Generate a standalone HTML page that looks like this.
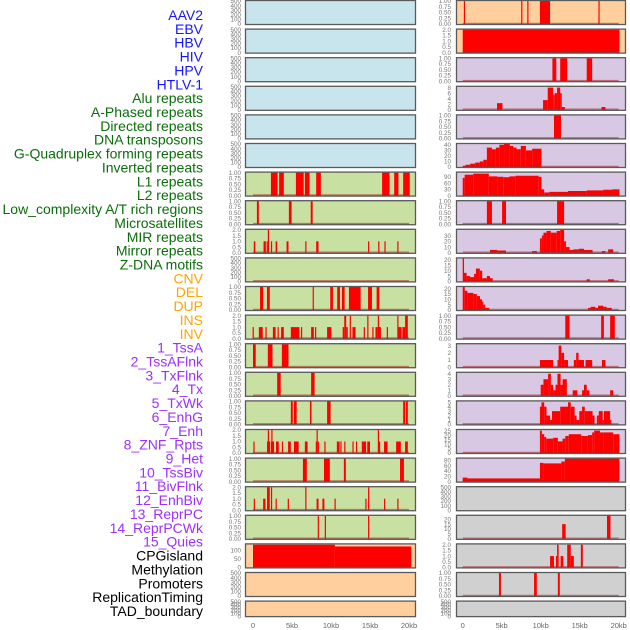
<!DOCTYPE html>
<html><head><meta charset="utf-8">
<style>
html,body{margin:0;padding:0;background:#fff;}
svg{display:block;font-family:"Liberation Sans",sans-serif;}
</style></head>
<body>
<svg id="chart" width="630" height="630" viewBox="0 0 630 630" xmlns="http://www.w3.org/2000/svg"></svg>
<script>
// ---- data ----
const trackLabels = ["AAV2","EBV","HBV","HIV","HPV","HTLV-1","Alu repeats","A-Phased repeats","Directed repeats","DNA transposons","G-Quadruplex forming repeats","Inverted repeats","L1 repeats","L2 repeats","Low_complexity A/T rich regions","Microsatellites","MIR repeats","Mirror repeats","Z-DNA motifs","CNV","DEL","DUP","INS","INV","1_TssA","2_TssAFlnk","3_TxFlnk","4_Tx","5_TxWk","6_EnhG","7_Enh","8_ZNF_Rpts","9_Het","10_TssBiv","11_BivFlnk","12_EnhBiv","13_ReprPC","14_ReprPCWk","15_Quies","CPGisland","Methylation","Promoters","ReplicationTiming","TAD_boundary"];
const labelGroups = [0,0,0,0,0,0,1,1,1,1,1,1,1,1,1,1,1,1,1,2,2,2,2,2,3,3,3,3,3,3,3,3,3,3,3,3,3,3,3,4,4,4,4,4];
const xTicks = [0,5,10,15,20];
const xTickLabels = ["0","5kb","10kb","15kb","20kb"];

// left column panels: background group, axis max, ticks, segments [startKb,endKb,value]
const leftBg = [0,0,0,0,0,0,1,1,1,1,1,1,1,1,1,1,1,1,1,2,2,2];
const leftMax = [500,500,500,500,500,500,1,1,2,500,1,2,1,1,1,2,1,2,1,135,500,500];
const leftTicks = ["h","h","h","h","h","h","q","q","t","h","q","t","q","q","q","t","q","t","q","c","h","h"];
const L6 = [[2.3,3.15,1],[3.35,3.95,1],[5.5,6.5,1],[6.65,7.25,1],[8.1,8.7,1],[16.55,17.5,1],[18.1,18.65,1],[19.25,20.1,1]];
const L7 = [[0.5,0.75,1],[4.6,4.95,1],[7.4,7.65,1]];
const L8 = [[0.1,0.3,1],[1.35,1.65,1],[1.75,1.9,1],[1.9,2.05,2],[2.3,2.45,1],[2.9,3.1,1],[4.3,4.55,1],[6.7,6.85,1],[8.1,8.4,1],[14.75,14.9,1],[16.05,16.2,1],[16.85,17.0,1],[18.5,18.65,1]];
const L10 = [[0.9,1.3,1],[1.8,2.15,1],[7.65,7.8,1],[9.9,10.25,1],[10.8,11.15,1],[11.4,11.75,1],[12.3,13.8,1],[14.75,15.25,1],[15.85,16.2,1]];
const L11 = [[-0.05,0.1,1],[0.75,1.25,1],[1.6,1.75,1],[2.55,2.9,1],[3.15,3.3,1],[3.6,3.95,1],[4.85,5.95,1],[6.15,6.3,1],[7.45,7.8,1],[7.95,8.1,1],[9.5,10.05,1],[11.5,11.7,1],[11.7,11.95,2],[11.95,12.15,1],[12.4,12.55,2],[12.75,13.15,1],[14.2,14.35,1],[14.65,14.8,2],[15.3,15.45,1],[15.7,16.0,1],[16.0,16.15,2],[16.15,16.4,1],[17.15,17.3,1],[18.5,18.65,2],[18.65,19.05,1],[19.15,19.5,1],[19.5,19.85,2]];
const L12 = [[0,0.35,1],[1.9,2.5,1],[3.7,4.55,1]];
const L13 = [[3.1,3.55,1],[7.45,7.9,1]];
const L14 = [[4.85,5.1,1],[5.25,5.6,1],[7.3,7.5,1],[9.5,9.95,1],[19.25,19.5,1],[19.6,19.85,1]];
const L15 = [[0.05,0.2,1],[1.8,1.9,1],[1.9,2.05,2],[2.05,2.15,1],[2.3,2.35,1],[2.35,2.45,2],[2.45,2.7,1],[2.95,3.3,1],[3.7,3.85,1],[4.5,4.85,1],[5.25,5.85,1],[6.65,7.0,1],[8.05,8.15,1],[8.15,8.3,2],[8.3,8.4,1],[9.15,9.3,1],[10.75,11.1,1],[11.2,11.35,1],[11.7,11.85,1],[12.75,12.9,1],[13.2,13.35,1],[13.95,14.5,1],[14.65,15.0,1],[16.0,16.15,2],[16.15,16.25,1],[16.8,17.25,1],[18.35,18.95,1],[19.5,19.85,1]];
const L16 = [[6.4,6.9,1],[9.1,9.85,1],[11.65,11.9,1],[18.85,19.35,1]];
const L17 = [[0.1,0.25,1],[1.3,1.6,1],[1.8,2.15,2],[2.3,2.4,2],[2.9,3.05,1],[4.45,4.6,1],[6.7,6.85,2],[8.15,8.4,1],[8.9,9.15,1],[10.45,10.6,1],[14.4,14.5,1],[14.75,14.9,2],[16.8,16.95,1],[18.5,18.6,1]];
const L18 = [[8.3,8.45,1],[9.2,9.35,1],[14.75,14.9,1]];
const L19 = [[0,10.5,133],[10.5,20.3,123]];
const leftSegs = [[],[],[],[],[],[],L6,L7,L8,[],L10,L11,L12,L13,L14,L15,L16,L17,L18,L19,[],[]];

const rightBg = [2,2,3,3,3,3,3,3,3,3,3,3,3,3,3,3,3,4,4,4,4,4];
const rightMax = [1,2,1,8.3,1,41.5,110,1,40,21.5,21.5,1,3.2,4.17,5.2,25.7,86,500,23.5,2.03,1,500];
const rightTicks = ["q","t",["q"],[0,2,4,6,8],"q",[0,10,20,30,40],[0,30,60,90],"q",[0,10,20,30],[0,5,10,15,20],[0,5,10,15,20],"q",[0,1,2,3],[0,1,2,3,4],[0,1,2,3,4,5],[0,5,10,15,20,25],[0,20,40,60,80],"h",[0,5,10,15,20],"t","q","h"];
const R0 = [[0.15,0.3,1],[7.5,7.62,1],[8.28,8.4,1],[9.9,11.2,1],[17.4,17.55,1]];
const R1 = [[0,20.1,2]];
const R2 = [[11.5,12.0,1],[12.5,13.4,1],[15.9,16.6,1]];
const R3 = [[4.4,5.1,2.4],[10.3,10.9,3.5],[10.9,11.6,8],[11.6,11.8,5.5],[11.8,12.1,6],[12.1,12.5,8],[12.5,12.7,6],[12.7,13.1,1],[17.8,18.3,1]];
const R4 = [[11.7,12.6,1]];
const R5 = [[0,0.35,2],[0.35,0.95,4],[0.95,1.6,6],[1.6,2.2,8],[2.2,2.65,10],[2.65,3.1,13],[3.1,3.75,35],[3.75,4.25,32],[4.25,4.7,35],[4.7,5.3,40],[5.3,6.05,43],[6.05,6.5,38],[6.5,6.9,35],[6.9,7.45,32],[7.45,8.1,38],[8.1,8.9,30],[8.9,10.1,33]];
const R6 = [[0,0.25,85],[0.25,1.35,100],[1.35,3.35,105],[3.35,4.45,92],[4.45,5.2,90],[5.2,6,88],[6,6.75,92],[6.75,9.75,95],[9.75,10.1,90],[10.1,10.45,30],[10.45,11.1,15],[11.1,13.5,18],[13.5,15.9,22],[15.9,18,25],[18,19.2,28],[19.2,20.1,30]];
const R7 = [[3.1,3.75,1],[5.05,5.55,1],[12.1,13,1]];
const R8 = [[3.5,4.45,5],[4.45,5.55,4],[8.9,9.5,3],[9.9,10.15,25],[10.15,10.35,30],[10.35,10.75,35],[10.75,11.3,38],[11.3,12.05,35],[12.05,12.5,38],[12.5,13,40],[13,13.25,20],[13.25,13.7,10],[13.7,14.2,5],[14.2,14.9,6],[14.9,15.55,7],[15.55,16.65,5],[17.85,18.3,3],[18.65,19.3,6]];
const R9 = [[0,0.17,22],[0.17,0.5,8],[0.5,0.95,5],[0.95,1.45,4],[1.45,1.7,7],[1.7,2.2,12],[2.2,2.5,10],[2.5,3.1,3],[3.1,3.5,5],[3.5,3.85,3],[15.9,16.3,2],[18.65,19.4,2]];
const R10 = [[0,0.26,22],[0.26,0.6,18],[0.6,1.37,16],[1.37,1.8,15],[1.8,2.22,13],[2.22,2.48,10],[2.48,2.65,8],[2.65,2.9,5],[2.9,3.42,2],[16.07,16.41,2],[16.41,17.0,3],[17.0,17.35,2],[17.35,18.03,4],[18.03,18.46,3],[18.46,19.1,2]];
const R11 = [[13.15,13.7,1],[17.75,18.1,1],[18.9,19.5,1]];
const R12 = [[9.9,11.6,1],[12.15,12.3,1],[12.3,12.65,3],[12.65,13,2],[13,13.5,1],[14.25,14.55,1],[14.55,14.85,2],[14.85,15.55,1],[15.75,16.6,1],[17.85,18.3,1]];
const R13 = [[10,10.35,2],[10.35,10.95,3],[10.95,11.3,4],[11.3,11.6,2],[11.6,11.9,1],[11.9,12.15,2],[12.15,12.55,4],[12.55,12.8,2],[12.8,13.35,3],[14.1,14.7,1],[15.3,15.55,1],[15.55,15.9,2],[15.9,16.25,1],[18.9,19.3,1]];
const R14 = [[9.9,10.1,4],[10.1,10.45,5],[10.45,10.75,4],[10.75,11.2,2],[11.2,11.45,1],[11.45,12.5,3],[12.5,13.5,4],[13.5,13.85,5],[13.85,14.35,4],[14.35,14.6,2],[14.6,14.95,1],[14.95,15.3,3],[15.3,15.65,4],[15.65,16.65,3],[16.65,16.9,2],[17.2,17.45,2],[17.45,17.95,3],[17.95,18.1,1],[18.1,18.9,3],[18.9,19.05,1]];
const R15 = [[9.9,10.15,25],[10.15,10.45,21],[10.45,10.7,18],[10.7,11.6,16],[11.6,12.2,17],[12.2,12.8,13],[12.8,13.15,16],[13.15,13.6,19],[13.6,15.2,21],[15.2,16.05,19],[16.05,16.6,20],[16.6,16.85,23],[16.85,17.6,25],[17.6,18,23],[18,19.3,23],[19.3,20.1,21]];
const R16 = [[0,0.6,15],[0.6,9.9,12],[9.9,10.35,70],[10.35,12.65,68],[12.65,13.1,75],[13.1,20.1,86]];
const R18 = [[12.75,13.2,15],[18.5,18.95,25]];
const R19 = [[11.2,11.7,1],[11.95,12.1,1],[12.1,12.3,2],[12.55,12.9,1],[13.4,13.85,2],[13.85,14.25,1],[15.15,15.4,2]];
const R20 = [[4.65,4.9,1],[9.15,9.5,1],[12.2,12.45,1]];
const rightSegs = [R0,R1,R2,R3,R4,R5,R6,R7,R8,R9,R10,R11,R12,R13,R14,R15,R16,[],R18,R19,R20,[]];

// ---- styling ----
const groupColors = ["#1515ff","#0a6e0a","#ffa500","#9b30ff","#000000"];
const bgColors = ["#c8e4ec","#c8e0a2","#ffd09e","#d8c8e4","#d0d0d0"];
const NS = "http://www.w3.org/2000/svg";
const svg = document.getElementById("chart");
function el(tag, attrs, parent){
  const e = document.createElementNS(NS, tag);
  for (const k in attrs) e.setAttribute(k, attrs[k]);
  (parent||svg).appendChild(e);
  return e;
}
const cols = [
  {fx:245, fw:171, x0:253, x1:409, tickX:241, bg:leftBg, max:leftMax, ticks:leftTicks, segs:leftSegs, name:"left"},
  {fx:456, fw:170, x0:462.7, x1:618.7, tickX:451, bg:rightBg, max:rightMax, ticks:rightTicks, segs:rightSegs, name:"right"}
];
function rowTop(i){ return i<21 ? 28.6*i : 600.6; }
function rowH(i){ return i<21 ? 25 : 16.5; }
function tickList(spec, max){
  if (spec==="h") return [[0,"0"],[100,"100"],[200,"200"],[300,"300"],[400,"400"],[500,"500"]];
  if (spec==="q" || (Array.isArray(spec)&&spec[0]==="q")) return [[0,"0.00"],[0.25,"0.25"],[0.5,"0.50"],[0.75,"0.75"],[1,"1.00"]];
  if (spec==="t") return [[0,"0.0"],[0.5,"0.5"],[1,"1.0"],[1.5,"1.5"],[2,"2.0"]];
  if (spec==="c") return [[0,"0"],[50,"50"],[100,"100"]];
  return spec.map(v=>[v,String(v)]);
}

// left labels
trackLabels.forEach((t,i)=>{
  const tx = el("text",{x:203,y:15+i*13.86+5,"text-anchor":"end","font-size":"14",fill:groupColors[labelGroups[i]]});
  
  
  tx.textContent = t;
});

cols.forEach(c=>{
  const xs = kb => c.x0 + (kb/20)*(c.x1-c.x0);
  for (let i=0;i<22;i++){
    const top = rowTop(i), h = rowH(i);
    const g = el("g",{});
    
    
    const clipId = "clip-"+c.name+"-"+i;
    const cp = el("clipPath",{id:clipId},g);
    el("rect",{x:c.fx,y:top,width:c.fw,height:h},cp);
    const bgRect = el("rect",{x:c.fx,y:top,width:c.fw,height:h,fill:bgColors[c.bg[i]]},g);
    
    
    const yMax = c.max[i];
    const yb = top + h - 1, yt = top + 1;
    const ys = v => yb - (v/yMax)*(yb-yt);
    const marks = el("g",{"clip-path":"url(#"+clipId+")"},g);
    c.segs[i].forEach(s=>{
      const r = el("rect",{x:xs(s[0]),y:ys(s[2]),width:Math.max(1.2,xs(s[1])-xs(s[0])),height:Math.max(0,yb-ys(s[2])),fill:"#ff0000"},marks);
      
      
    });
    if (c.segs[i].length || (c.bg[i]!==0 && c.bg[i]!==4 && !(c.name==="left"&&c.bg[i]===2) && !(c.name==="right"&&i<2))){
      const bl = el("line",{x1:xs(0),x2:xs(20),y1:yb-0.5,y2:yb-0.5,stroke:"rgba(170,30,30,0.55)","stroke-width":"1.6"},g);
      
      
    }
    const fr = el("rect",{x:c.fx+0.5,y:top+0.5,width:c.fw-1,height:h-1,fill:"none",stroke:"#5a5a5a","stroke-width":"1.3"},g);
    
    
    tickList(c.ticks[i], yMax).forEach(tk=>{
      const t = el("text",{x:c.tickX,y:ys(tk[0])+2.2,"text-anchor":"end","font-size":"6.3",fill:"#777"},g);
      
      
      t.textContent = tk[1];
    });
  }
  xTicks.forEach((v,k)=>{
    const t = el("text",{x:xs(v),y:628,"text-anchor":"middle","font-size":"7.5",fill:"#666"});
    
    
    t.textContent = xTickLabels[k];
  });
});
</script>
</body></html>
